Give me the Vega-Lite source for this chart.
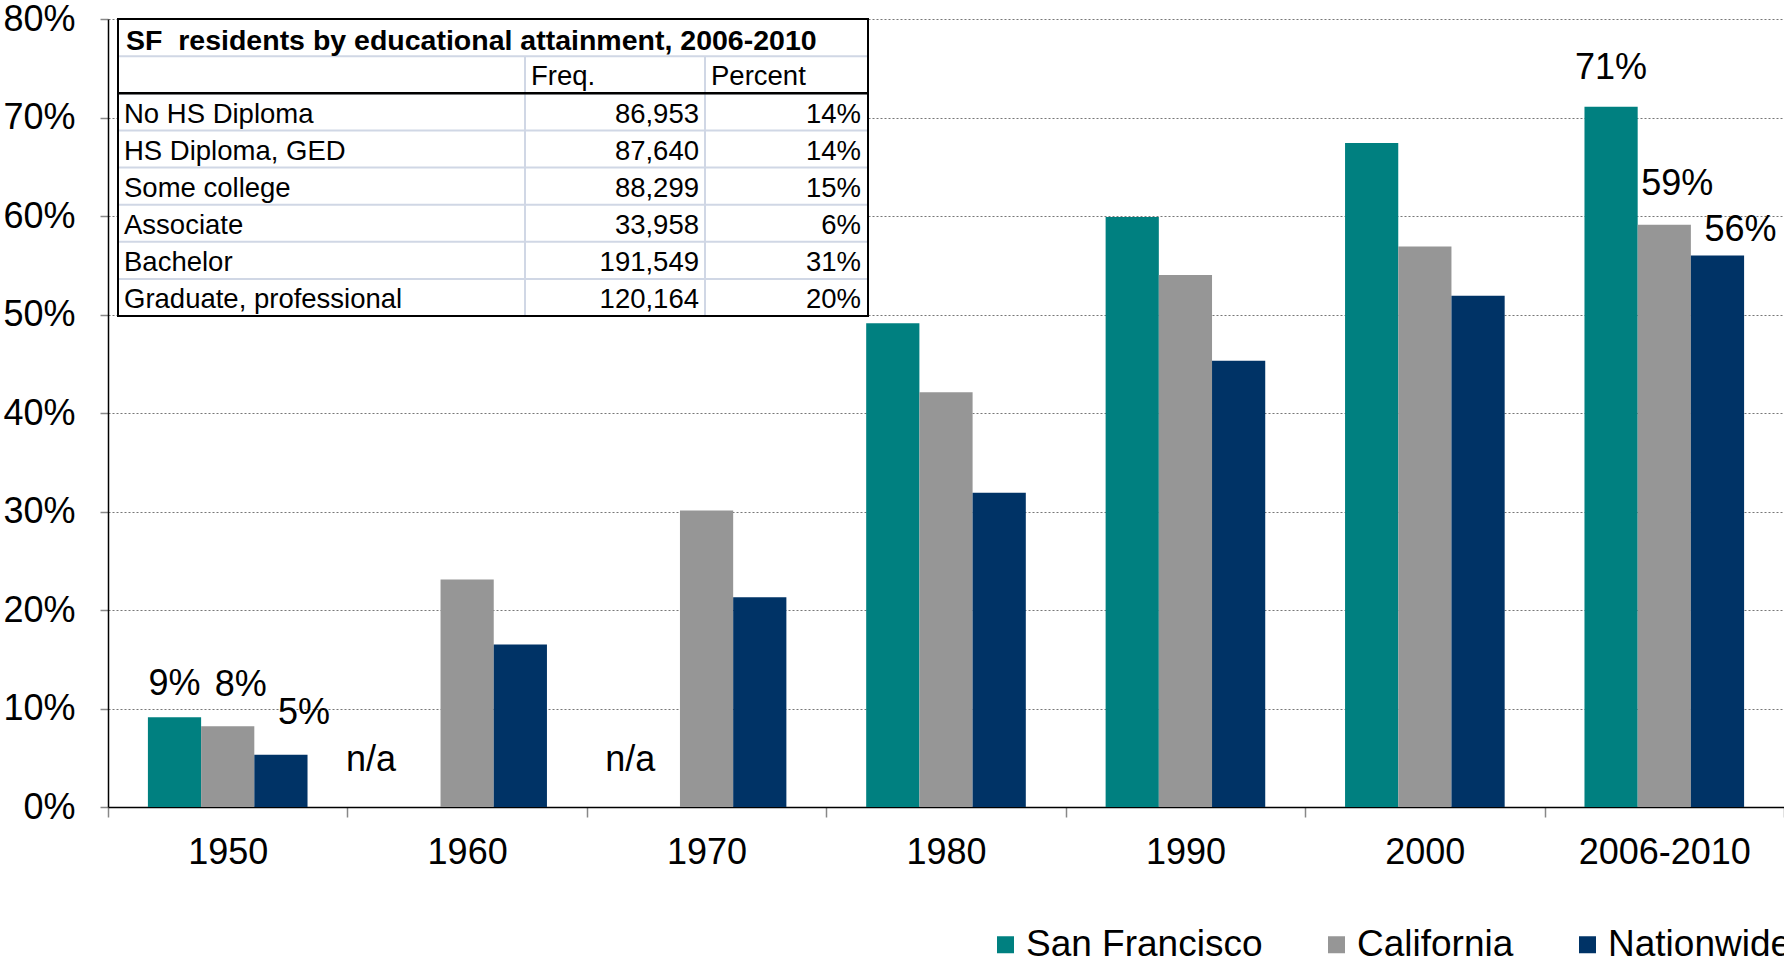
{
  "$schema": "https://vega.github.io/schema/vega-lite/v6.json",
  "width": 1676,
  "height": 788,
  "autosize": {"type": "none"},
  "padding": {"left": 108, "top": 19, "right": 0, "bottom": 154},
  "background": "white",
  "config": {
    "view": {"stroke": null},
    "font": "Liberation Sans",
    "text": {"font": "Liberation Sans", "color": "black"}
  },
  "resolve": {"scale": {"x": "independent", "y": "independent"}},
  "layer": [
    {
      "data": {
        "values": [
          {"period": "1950", "series": "San Francisco", "value": 9.1, "label": "9%"},
          {"period": "1950", "series": "California", "value": 8.2, "label": "8%"},
          {"period": "1950", "series": "Nationwide", "value": 5.3, "label": "5%"},
          {"period": "1960", "series": "California", "value": 23.1, "label": null},
          {"period": "1960", "series": "Nationwide", "value": 16.5, "label": null},
          {"period": "1970", "series": "California", "value": 30.1, "label": null},
          {"period": "1970", "series": "Nationwide", "value": 21.3, "label": null},
          {"period": "1980", "series": "San Francisco", "value": 49.1, "label": null},
          {"period": "1980", "series": "California", "value": 42.1, "label": null},
          {"period": "1980", "series": "Nationwide", "value": 31.9, "label": null},
          {"period": "1990", "series": "San Francisco", "value": 59.9, "label": null},
          {"period": "1990", "series": "California", "value": 54.0, "label": null},
          {"period": "1990", "series": "Nationwide", "value": 45.3, "label": null},
          {"period": "2000", "series": "San Francisco", "value": 67.4, "label": null},
          {"period": "2000", "series": "California", "value": 56.9, "label": null},
          {"period": "2000", "series": "Nationwide", "value": 51.9, "label": null},
          {"period": "2006-2010", "series": "San Francisco", "value": 71.1, "label": "71%"},
          {"period": "2006-2010", "series": "California", "value": 59.1, "label": "59%"},
          {"period": "2006-2010", "series": "Nationwide", "value": 56.0, "label": "56%"}
        ]
      },
      "layer": [
        {
          "mark": {"type": "bar"},
          "encoding": {
            "x": {
              "field": "period", "type": "nominal",
              "scale": {"domain": ["1950", "1960", "1970", "1980", "1990", "2000", "2006-2010"], "paddingInner": 0, "paddingOuter": 0},
              "axis": {
                "title": null, "labelAngle": 0, "labelFontSize": 36, "labelFont": "Liberation Sans", "labelColor": "black",
                "tickBand": "extent", "tickSize": 10, "tickColor": "#888888", "tickWidth": 1.5,
                "domainColor": "black", "domainWidth": 1.5, "labelPadding": 18, "labelLimit": 300, "grid": false
              }
            },
            "xOffset": {"field": "series", "type": "nominal", "scale": {"domain": ["San Francisco", "California", "Nationwide"], "paddingInner": 0, "paddingOuter": 0.75}},
            "y": {
              "field": "value", "type": "quantitative",
              "scale": {"domain": [0, 80], "nice": false},
              "axis": {
                "title": null, "values": [0, 10, 20, 30, 40, 50, 60, 70, 80],
                "labelExpr": "datum.value + '%'", "labelFontSize": 36, "labelFont": "Liberation Sans", "labelColor": "black",
                "tickSize": 8, "tickColor": "#888888", "tickWidth": 1.5, "domainColor": "black", "domainWidth": 1.5,
                "labelPadding": 25, "grid": true, "gridColor": "#777777", "gridDash": [2, 2], "gridWidth": 1
              }
            },
            "color": {
              "field": "series", "type": "nominal",
              "scale": {"domain": ["San Francisco", "California", "Nationwide"], "range": ["#008080", "#969696", "#003366"]},
              "legend": {
                "orient": "none", "legendX": 879, "legendY": 907, "direction": "horizontal", "title": null,
                "labelFontSize": 37, "labelFont": "Liberation Sans", "labelColor": "black", "labelLimit": 400,
                "symbolType": "square", "symbolSize": 289, "symbolStrokeWidth": 0, "labelOffset": 2,
                "columnPadding": 55, "padding": 0
              }
            }
          }
        },
        {
          "transform": [{"filter": "datum.label != null && datum.series == 'San Francisco' && datum.period == '1950'"}],
          "mark": {"type": "text", "fontSize": 36, "baseline": "alphabetic", "align": "center", "dy": -22, "dx": 0},
          "encoding": {
            "x": {"field": "period", "type": "nominal", "scale": {"domain": ["1950", "1960", "1970", "1980", "1990", "2000", "2006-2010"]}},
            "xOffset": {"field": "series", "type": "nominal", "scale": {"domain": ["San Francisco", "California", "Nationwide"]}},
            "y": {"field": "value", "type": "quantitative"},
            "text": {"field": "label"}
          }
        },
        {
          "transform": [{"filter": "datum.label != null && datum.series == 'San Francisco' && datum.period == '2006-2010'"}],
          "mark": {"type": "text", "fontSize": 36, "baseline": "alphabetic", "align": "center", "dy": -28, "dx": 0},
          "encoding": {
            "x": {"field": "period", "type": "nominal", "scale": {"domain": ["1950", "1960", "1970", "1980", "1990", "2000", "2006-2010"]}},
            "xOffset": {"field": "series", "type": "nominal", "scale": {"domain": ["San Francisco", "California", "Nationwide"]}},
            "y": {"field": "value", "type": "quantitative"},
            "text": {"field": "label"}
          }
        },
        {
          "transform": [{"filter": "datum.label != null && datum.series == 'California'"}],
          "mark": {"type": "text", "fontSize": 36, "baseline": "alphabetic", "align": "center", "dy": -30, "dx": 13},
          "encoding": {
            "x": {"field": "period", "type": "nominal", "scale": {"domain": ["1950", "1960", "1970", "1980", "1990", "2000", "2006-2010"]}},
            "xOffset": {"field": "series", "type": "nominal", "scale": {"domain": ["San Francisco", "California", "Nationwide"]}},
            "y": {"field": "value", "type": "quantitative"},
            "text": {"field": "label"}
          }
        },
        {
          "transform": [{"filter": "datum.label != null && datum.series == 'Nationwide' && datum.period == '1950'"}],
          "mark": {"type": "text", "fontSize": 36, "baseline": "alphabetic", "align": "center", "dy": -31, "dx": 23},
          "encoding": {
            "x": {"field": "period", "type": "nominal", "scale": {"domain": ["1950", "1960", "1970", "1980", "1990", "2000", "2006-2010"]}},
            "xOffset": {"field": "series", "type": "nominal", "scale": {"domain": ["San Francisco", "California", "Nationwide"]}},
            "y": {"field": "value", "type": "quantitative"},
            "text": {"field": "label"}
          }
        },
        {
          "transform": [{"filter": "datum.label != null && datum.series == 'Nationwide' && datum.period == '2006-2010'"}],
          "mark": {"type": "text", "fontSize": 36, "baseline": "alphabetic", "align": "center", "dy": -14, "dx": 23},
          "encoding": {
            "x": {"field": "period", "type": "nominal", "scale": {"domain": ["1950", "1960", "1970", "1980", "1990", "2000", "2006-2010"]}},
            "xOffset": {"field": "series", "type": "nominal", "scale": {"domain": ["San Francisco", "California", "Nationwide"]}},
            "y": {"field": "value", "type": "quantitative"},
            "text": {"field": "label"}
          }
        },
        {
          "data": {"values": [{"period": "1960", "series": "San Francisco", "label": "n/a"}]},
          "mark": {"type": "text", "fontSize": 36, "baseline": "alphabetic", "align": "center", "dy": -36, "dx": -43},
          "encoding": {
            "x": {"field": "period", "type": "nominal", "scale": {"domain": ["1950", "1960", "1970", "1980", "1990", "2000", "2006-2010"]}},
            "xOffset": {"field": "series", "type": "nominal", "scale": {"domain": ["San Francisco", "California", "Nationwide"]}},
            "y": {"datum": 0, "type": "quantitative"},
            "text": {"field": "label"}
          }
        },
        {
          "data": {"values": [{"period": "1970", "series": "San Francisco", "label": "n/a"}]},
          "mark": {"type": "text", "fontSize": 36, "baseline": "alphabetic", "align": "center", "dy": -36, "dx": -23},
          "encoding": {
            "x": {"field": "period", "type": "nominal", "scale": {"domain": ["1950", "1960", "1970", "1980", "1990", "2000", "2006-2010"]}},
            "xOffset": {"field": "series", "type": "nominal", "scale": {"domain": ["San Francisco", "California", "Nationwide"]}},
            "y": {"datum": 0, "type": "quantitative"},
            "text": {"field": "label"}
          }
        }
      ]
    },
    {
      "data": {
        "values": [
          {"row": 2, "category": "No HS Diploma", "freq": "86,953", "pct": "14%"},
          {"row": 3, "category": "HS Diploma, GED", "freq": "87,640", "pct": "14%"},
          {"row": 4, "category": "Some college", "freq": "88,299", "pct": "15%"},
          {"row": 5, "category": "Associate", "freq": "33,958", "pct": "6%"},
          {"row": 6, "category": "Bachelor", "freq": "191,549", "pct": "31%"},
          {"row": 7, "category": "Graduate, professional", "freq": "120,164", "pct": "20%"}
        ]
      },
      "layer": [
        {
          "data": {"values": [{}]},
          "mark": {"type": "rect", "fill": "white"},
          "encoding": {
            "x": {"datum": 0, "type": "quantitative", "scale": {"domain": [0, 750], "range": [10, 760], "nice": false, "zero": false}, "axis": null},
            "x2": {"datum": 750},
            "y": {"datum": 0, "type": "quantitative", "scale": {"domain": [0, 8], "range": [0, 297], "nice": false, "zero": false}, "axis": null},
            "y2": {"datum": 8}
          }
        },
        {
          "mark": {"type": "rule", "color": "#D0D7E5", "strokeWidth": 2},
          "encoding": {
            "x": {"datum": 0, "type": "quantitative", "scale": {"domain": [0, 750], "range": [10, 760], "nice": false, "zero": false}, "axis": null},
            "x2": {"datum": 750},
            "y": {"field": "row", "type": "quantitative", "scale": {"domain": [0, 8], "range": [0, 297], "nice": false, "zero": false}, "axis": null}
          }
        },
        {
          "data": {"values": [{}]},
          "mark": {"type": "rule", "color": "#D0D7E5", "strokeWidth": 2},
          "encoding": {
            "x": {"datum": 0, "type": "quantitative", "scale": {"domain": [0, 750], "range": [10, 760], "nice": false, "zero": false}, "axis": null},
            "x2": {"datum": 750},
            "y": {"datum": 1, "type": "quantitative", "scale": {"domain": [0, 8], "range": [0, 297], "nice": false, "zero": false}, "axis": null}
          }
        },
        {
          "data": {"values": [{}]},
          "mark": {"type": "rule", "color": "#D0D7E5", "strokeWidth": 2},
          "encoding": {
            "x": {"datum": 407, "type": "quantitative", "scale": {"domain": [0, 750], "range": [10, 760], "nice": false, "zero": false}, "axis": null},
            "y": {"datum": 1, "type": "quantitative", "scale": {"domain": [0, 8], "range": [0, 297], "nice": false, "zero": false}, "axis": null},
            "y2": {"datum": 8}
          }
        },
        {
          "data": {"values": [{}]},
          "mark": {"type": "rule", "color": "#D0D7E5", "strokeWidth": 2},
          "encoding": {
            "x": {"datum": 587, "type": "quantitative", "scale": {"domain": [0, 750], "range": [10, 760], "nice": false, "zero": false}, "axis": null},
            "y": {"datum": 1, "type": "quantitative", "scale": {"domain": [0, 8], "range": [0, 297], "nice": false, "zero": false}, "axis": null},
            "y2": {"datum": 8}
          }
        },
        {
          "data": {"values": [{}]},
          "mark": {"type": "rule", "color": "black", "strokeWidth": 2.5},
          "encoding": {
            "x": {"datum": 0, "type": "quantitative", "scale": {"domain": [0, 750], "range": [10, 760], "nice": false, "zero": false}, "axis": null},
            "x2": {"datum": 750},
            "y": {"datum": 2, "type": "quantitative", "scale": {"domain": [0, 8], "range": [0, 297], "nice": false, "zero": false}, "axis": null}
          }
        },
        {
          "data": {"values": [{}]},
          "mark": {"type": "rect", "filled": false, "stroke": "black", "strokeWidth": 2},
          "encoding": {
            "x": {"datum": 0, "type": "quantitative", "scale": {"domain": [0, 750], "range": [10, 760], "nice": false, "zero": false}, "axis": null},
            "x2": {"datum": 750},
            "y": {"datum": 0, "type": "quantitative", "scale": {"domain": [0, 8], "range": [0, 297], "nice": false, "zero": false}, "axis": null},
            "y2": {"datum": 8}
          }
        },
        {
          "data": {"values": [{"title": "SF\u00a0 residents by educational attainment, 2006-2010"}]},
          "mark": {"type": "text", "align": "left", "baseline": "middle", "fontWeight": "bold", "fontSize": 28.5, "dx": 8, "dy": 22},
          "encoding": {
            "x": {"datum": 0, "type": "quantitative", "scale": {"domain": [0, 750], "range": [10, 760], "nice": false, "zero": false}, "axis": null},
            "y": {"datum": 0, "type": "quantitative", "scale": {"domain": [0, 8], "range": [0, 297], "nice": false, "zero": false}, "axis": null},
            "text": {"field": "title"}
          }
        },
        {
          "data": {"values": [{"h": "Freq."}]},
          "mark": {"type": "text", "align": "left", "baseline": "middle", "fontSize": 27.5, "dx": 6, "dy": 21},
          "encoding": {
            "x": {"datum": 407, "type": "quantitative", "scale": {"domain": [0, 750], "range": [10, 760], "nice": false, "zero": false}, "axis": null},
            "y": {"datum": 1, "type": "quantitative", "scale": {"domain": [0, 8], "range": [0, 297], "nice": false, "zero": false}, "axis": null},
            "text": {"field": "h"}
          }
        },
        {
          "data": {"values": [{"h": "Percent"}]},
          "mark": {"type": "text", "align": "left", "baseline": "middle", "fontSize": 27.5, "dx": 6, "dy": 21},
          "encoding": {
            "x": {"datum": 587, "type": "quantitative", "scale": {"domain": [0, 750], "range": [10, 760], "nice": false, "zero": false}, "axis": null},
            "y": {"datum": 1, "type": "quantitative", "scale": {"domain": [0, 8], "range": [0, 297], "nice": false, "zero": false}, "axis": null},
            "text": {"field": "h"}
          }
        },
        {
          "mark": {"type": "text", "align": "left", "baseline": "middle", "fontSize": 27.5, "dx": 6, "dy": 21.5},
          "encoding": {
            "x": {"datum": 0, "type": "quantitative", "scale": {"domain": [0, 750], "range": [10, 760], "nice": false, "zero": false}, "axis": null},
            "y": {"field": "row", "type": "quantitative", "scale": {"domain": [0, 8], "range": [0, 297], "nice": false, "zero": false}, "axis": null},
            "text": {"field": "category"}
          }
        },
        {
          "mark": {"type": "text", "align": "right", "baseline": "middle", "fontSize": 27.5, "dx": -6, "dy": 21.5},
          "encoding": {
            "x": {"datum": 587, "type": "quantitative", "scale": {"domain": [0, 750], "range": [10, 760], "nice": false, "zero": false}, "axis": null},
            "y": {"field": "row", "type": "quantitative", "scale": {"domain": [0, 8], "range": [0, 297], "nice": false, "zero": false}, "axis": null},
            "text": {"field": "freq"}
          }
        },
        {
          "mark": {"type": "text", "align": "right", "baseline": "middle", "fontSize": 27.5, "dx": -7, "dy": 21.5},
          "encoding": {
            "x": {"datum": 750, "type": "quantitative", "scale": {"domain": [0, 750], "range": [10, 760], "nice": false, "zero": false}, "axis": null},
            "y": {"field": "row", "type": "quantitative", "scale": {"domain": [0, 8], "range": [0, 297], "nice": false, "zero": false}, "axis": null},
            "text": {"field": "pct"}
          }
        }
      ]
    }
  ]
}
